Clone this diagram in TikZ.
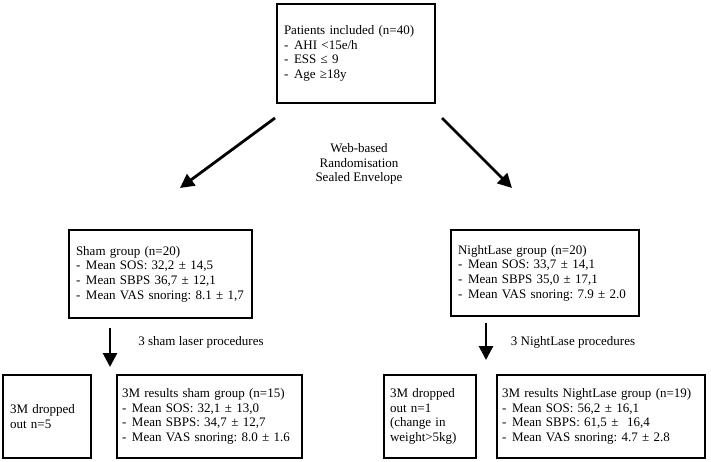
\documentclass[tikz,border=0pt]{standalone}
\usepackage{fontspec}
\setmainfont{Liberation Serif}
\usetikzlibrary{arrows.meta}
\frenchspacing
\newcommand{\itm}[1]{\mbox{\makebox[10pt][l]{-}#1}}
\begin{document}
\begin{tikzpicture}[x=1pt,y=-1pt,
  box/.style={draw, line width=2.8pt, align=left, inner xsep=7pt, inner ysep=0pt,
    font=\fontsize{13}{14.6}\selectfont\frenchspacing},
  lbl/.style={align=center, inner sep=0pt, font=\fontsize{13}{14.6}\selectfont},
  bigarrow/.style={line width=2.8pt, -{Triangle[length=14pt,width=14pt]}}]
\useasboundingbox (0,0) rectangle (711,462);
\node[box, text width=144pt, minimum height=99pt] (top) at (356,53.5)
  {\mbox{Patients included (n=40)}\\ \itm{AHI <15e/h}\\ \itm{ESS ≤ 9}\\ \itm{Age ≥18y}};
\node[box, text width=169pt, minimum height=88pt] (sham) at (160.5,274)
  {\mbox{Sham group (n=20)}\\ \itm{Mean SOS: 32,2 ± 14,5}\\ \itm{Mean SBPS 36,7 ± 12,1}\\ \itm{Mean VAS snoring: 8.1 ± 1,7}};
\node[box, text width=174pt, minimum height=86pt] (nl) at (545,273)
  {\mbox{NightLase group (n=20)}\\ \itm{Mean SOS: 33,7 ± 14,1}\\ \itm{Mean SBPS 35,0 ± 17,1}\\ \itm{Mean VAS snoring: 7.9 ± 2.0}};
\node[box, text width=74pt, minimum height=83pt] (dropl) at (47,416.5)
  {\mbox{3M dropped}\\ \mbox{out n=5}};
\node[box, inner xsep=5pt, text width=175pt, minimum height=83pt] (ress) at (209.5,416.5)
  {\mbox{3M results sham group (n=15)}\\ \itm{Mean SOS: 32,1 ± 13,0}\\ \itm{Mean SBPS: 34,7 ± 12,7}\\ \itm{Mean VAS snoring: 8.0 ± 1.6}};
\node[box, inner xsep=6pt, text width=80pt, minimum height=83pt] (dropr) at (430,416.5)
  {\mbox{3M dropped}\\ \mbox{out n=1}\\ \mbox{(change in}\\ \mbox{weight>5kg)}};
\node[box, inner xsep=5pt, text width=198pt, minimum height=83pt] (resn) at (601,416.5)
  {\mbox{3M results NightLase group (n=19)}\\ \itm{Mean SOS: 56,2 ± 16,1}\\ \itm{Mean SBPS: 61,5 ±\ \ 16,4}\\ \itm{Mean VAS snoring: 4.7 ± 2.8}};
\node[lbl] (rand) at (359,164) {Web-based\\ Randomisation\\ Sealed Envelope};
\node[lbl] (lsham) at (201,342) {3 sham laser procedures};
\node[lbl] (lnl) at (573,342) {3 NightLase procedures};
\coordinate (a1s) at (275,118);
\coordinate (a1e) at (180,188);
\coordinate (a2s) at (442,118);
\coordinate (a2e) at (512,188);
\coordinate (a3s) at (110,328);
\coordinate (a3e) at (110,367);
\coordinate (a4s) at (486,323);
\coordinate (a4e) at (486,360);
\draw[bigarrow] (a1s) -- (a1e);
\draw[bigarrow] (a2s) -- (a2e);
\draw[bigarrow] (a3s) -- (a3e);
\draw[bigarrow] (a4s) -- (a4e);
\end{tikzpicture}
\end{document}
